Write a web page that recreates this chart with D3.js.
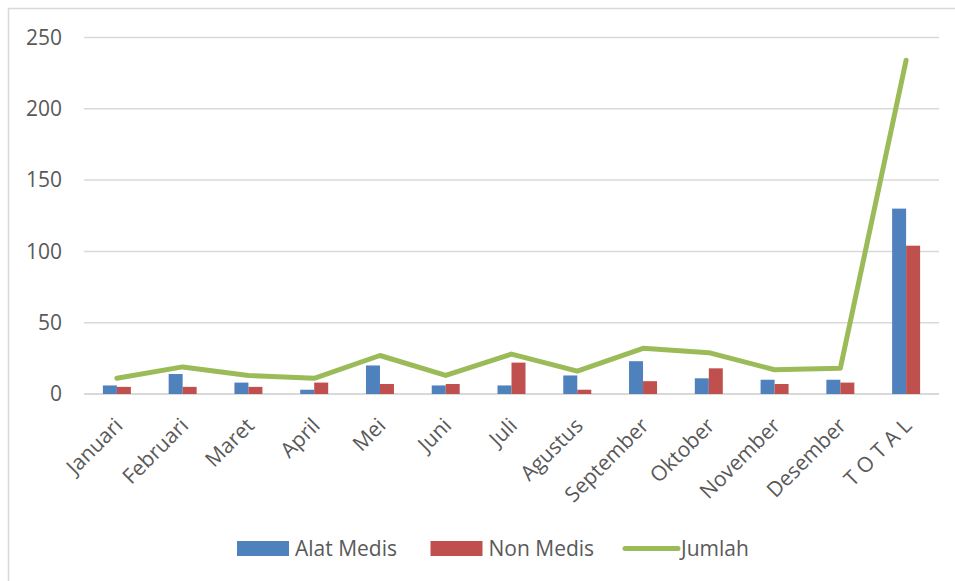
<!DOCTYPE html>
<html>
<head>
<meta charset="utf-8">
<script src="https://cdn.jsdelivr.net/npm/d3@7"></script>
<style>
    body { margin: 0; background: #fff; }
    svg { display: block; font-family: "Open Sans", "Noto Sans", sans-serif; }
</style>
</head>
<body>
<script>
// data
const months = ["Januari", "Februari", "Maret", "April", "Mei", "Juni", "Juli",
    "Agustus", "September", "Oktober", "November", "Desember", "T O T A L"];
const alatMedis = [6, 14, 8, 3, 20, 6, 6, 13, 23, 11, 10, 10, 130];
const nonMedis = [5, 5, 5, 8, 7, 7, 22, 3, 9, 18, 7, 8, 104];
const jumlah = [11, 19, 13, 11, 27, 13, 28, 16, 32, 29, 17, 18, 234];
const yTicks = [0, 50, 100, 150, 200, 250];

const width = 955, height = 581;
const margin = {top: 37.5, right: 16, bottom: 187, left: 84};

const svg = d3.select("body").append("svg")
    .attr("width", width)
    .attr("height", height);

// chart border (right and bottom fall outside the picture)
svg.append("rect")
    .attr("x", 8.5).attr("y", 8.5)
    .attr("width", 980).attr("height", 600)
    .attr("fill", "none")
    .attr("stroke", "#d9d9d9")
    .attr("stroke-width", 1.5);

const x = d3.scaleBand()
    .domain(months)
    .range([margin.left, width - margin.right]);

const xs = d3.scaleBand()
    .domain(["alat", "non"])
    .range([0, x.bandwidth()])
    .paddingInner(0)
    .paddingOuter(1.35);

const y = d3.scaleLinear()
    .domain([0, 250])
    .range([height - margin.bottom, margin.top]);

// gridlines
svg.append("g")
    .selectAll("line")
    .data(yTicks)
    .enter().append("line")
    .attr("x1", margin.left)
    .attr("x2", width - margin.right)
    .attr("y1", d => y(d))
    .attr("y2", d => y(d))
    .attr("stroke", "#d9d9d9")
    .attr("stroke-width", d => d === 0 ? 2 : 1.5);

// y labels
svg.append("g")
    .selectAll("text")
    .data(yTicks)
    .enter().append("text")
    .attr("x", 62)
    .attr("y", d => y(d))
    .attr("dy", "0.35em")
    .attr("text-anchor", "end")
    .attr("fill", "#595959")
    .style("font-size", "21px")
    .text(d => d);

// bars
const series = [
    {key: "alat", values: alatMedis, color: "#4f81bd"},
    {key: "non", values: nonMedis, color: "#c0504d"}
];

series.forEach(function(s) {
    svg.append("g")
        .selectAll("rect")
        .data(s.values)
        .enter().append("rect")
        .attr("x", (d, i) => x(months[i]) + xs(s.key))
        .attr("y", d => y(d))
        .attr("width", xs.bandwidth())
        .attr("height", d => y(0) - y(d))
        .attr("fill", s.color);
});

// Jumlah line
const line = d3.line()
    .x((d, i) => x(months[i]) + x.bandwidth() / 2)
    .y(d => y(d));

svg.append("path")
    .datum(jumlah)
    .attr("d", line)
    .attr("fill", "none")
    .attr("stroke", "#9bbb59")
    .attr("stroke-width", 5)
    .attr("stroke-linejoin", "round")
    .attr("stroke-linecap", "round");

// x labels, rotated
svg.append("g")
    .selectAll("text")
    .data(months)
    .enter().append("text")
    .attr("transform", d => "translate(" + (x(d) + x.bandwidth() / 2 + 7) + "," + 427 + ") rotate(-45)")
    .attr("text-anchor", "end")
    .attr("fill", "#595959")
    .style("font-size", "21px")
    .text(d => d);

// legend
const legend = svg.append("g");
const legendItems = [
    {name: "Alat Medis", color: "#4f81bd", x: 237, type: "rect"},
    {name: "Non Medis", color: "#c0504d", x: 430.5, type: "rect"},
    {name: "Jumlah", color: "#9bbb59", x: 623, type: "line"}
];

legendItems.forEach(function(item) {
    if (item.type === "rect") {
        legend.append("rect")
            .attr("x", item.x).attr("y", 541)
            .attr("width", 52).attr("height", 15)
            .attr("fill", item.color);
    } else {
        legend.append("line")
            .attr("x1", item.x + 2).attr("x2", item.x + 55)
            .attr("y1", 548.5).attr("y2", 548.5)
            .attr("stroke", item.color)
            .attr("stroke-width", 5)
            .attr("stroke-linecap", "round");
    }
    legend.append("text")
        .attr("x", item.x + 58)
        .attr("y", 556)
        .attr("fill", "#595959")
        .style("font-size", "21px")
        .text(item.name);
});
</script>
</body>
</html>
